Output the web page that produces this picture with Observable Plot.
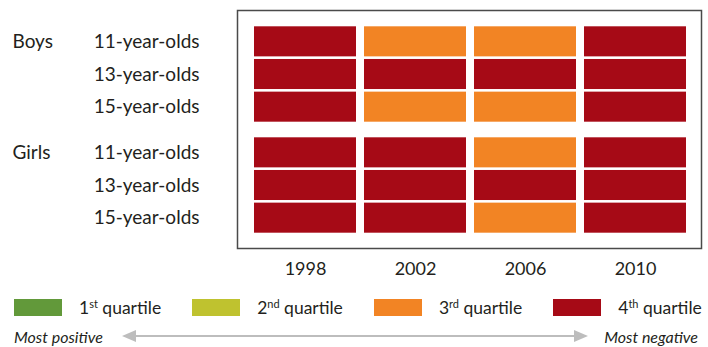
<!DOCTYPE html>
<html><head><meta charset="utf-8">
<script src="https://cdn.jsdelivr.net/npm/d3@7"></script>
<script src="https://cdn.jsdelivr.net/npm/@observablehq/plot@0.6"></script>
<style>
body{margin:0;background:#fff;font-family:Lato, sans-serif;color:#231f20;}
#wrap{width:708px;}
#wrap svg{display:block;}
.legend{display:flex;align-items:center;margin-top:15px;padding-left:14px;height:17px;}
.item{display:flex;align-items:center;margin-right:31px;}
.sw{width:48px;height:17px;margin-right:17px;}
.lab{font-size:17.5px;line-height:17px;white-space:nowrap;}
.lab sup{font-size:11px;line-height:0;vertical-align:6px;}
.arrowrow{display:flex;align-items:center;margin-top:10px;padding-left:14px;padding-right:10px;height:20px;}
.arrowrow span{font-style:italic;font-size:16px;white-space:nowrap;}
.arrow{flex:1;position:relative;height:2px;background:#bdbdbd;margin:0 19px 0 22px;}
.arrow::before,.arrow::after{content:"";position:absolute;top:-5px;border-top:6px solid transparent;border-bottom:6px solid transparent;}
.arrow::before{left:-3px;border-right:14px solid #bdbdbd;}
.arrow::after{right:-3px;border-left:14px solid #bdbdbd;}
</style>
</head><body>
<div id="wrap"></div>
<script>
const years = ["1998", "2002", "2006", "2010"];
const genders = ["Boys", "Girls"];
const ages = ["11-year-olds", "13-year-olds", "15-year-olds"];
const quartileOrdinals = ["1", "2", "3", "4"];
const quartileSuffixes = ["st", "nd", "rd", "th"];
const quartileValues = [1, 2, 3, 4];
// quartile of each cell, by year
const boys11 = [4, 3, 3, 4];
const boys13 = [4, 4, 4, 4];
const boys15 = [4, 3, 3, 4];
const girls11 = [4, 4, 3, 4];
const girls13 = [4, 4, 4, 4];
const girls15 = [4, 4, 3, 4];
const leftLabel = "Most positive";
const rightLabel = "Most negative";

const quartileColors = ["#62993a", "#bfc22f", "#f28424", "#a60a16"];

const rows = [
  ["Boys", "11-year-olds", boys11], ["Boys", "13-year-olds", boys13], ["Boys", "15-year-olds", boys15],
  ["Girls", "11-year-olds", girls11], ["Girls", "13-year-olds", girls13], ["Girls", "15-year-olds", girls15]
];
const table = rows.flatMap(([gender, age, vals]) => years.map((year, i) => ({gender, age, year, q: vals[i]})));
const genderLabels = genders.map(g => ({gender: g, age: ages[0]}));

const chart = Plot.plot({
  width: 708, height: 284,
  marginLeft: 237, marginRight: 7, marginTop: 10, marginBottom: 36,
  x: {domain: years, paddingInner: 0.073, paddingOuter: 0, insetLeft: 17, insetRight: 15, axis: null},
  y: {domain: ages, paddingInner: 0.08, paddingOuter: 0.04, round: false, axis: null},
  fy: {domain: genders, paddingInner: 0.12, paddingOuter: 0, insetTop: 14.7, insetBottom: 14, axis: null},
  color: {domain: quartileValues, range: quartileColors},
  style: {fontFamily: "Lato, sans-serif", color: "#231f20", background: "transparent"},
  marks: [
    Plot.cell(table, {x: "year", y: "age", fy: "gender", fill: "q", inset: 0}),
    Plot.axisY({fontSize: 19, tickSize: 0, tickPadding: 38, label: null}),
    Plot.axisX({fontSize: 18, tickSize: 0, tickPadding: 28, label: null}),
    Plot.text(genderLabels, {fy: "gender", y: "age", text: "gender", frameAnchor: "left", textAnchor: "start", dx: -225, fontSize: 19}),
    Plot.frame({facet: "super", stroke: "#4a4a4a", strokeWidth: 1.5, insetTop: -15, insetBottom: -14})
  ]
});
const wrap = document.getElementById("wrap");
wrap.appendChild(chart);

const legend = document.createElement("div");
legend.className = "legend";
quartileValues.forEach((v, i) => {
  const item = document.createElement("div");
  item.className = "item";
  const sw = document.createElement("div");
  sw.className = "sw";
  sw.style.background = chart.scale("color").apply(v);
  const lab = document.createElement("span");
  lab.className = "lab";
  lab.innerHTML = `${quartileOrdinals[i]}<sup>${quartileSuffixes[i]}</sup> quartile`;
  item.append(sw, lab);
  legend.appendChild(item);
});
wrap.appendChild(legend);

const arrowRow = document.createElement("div");
arrowRow.className = "arrowrow";
const l = document.createElement("span"); l.textContent = leftLabel;
const a = document.createElement("div"); a.className = "arrow";
const r = document.createElement("span"); r.textContent = rightLabel;
arrowRow.append(l, a, r);
wrap.appendChild(arrowRow);
</script>
</body></html>
